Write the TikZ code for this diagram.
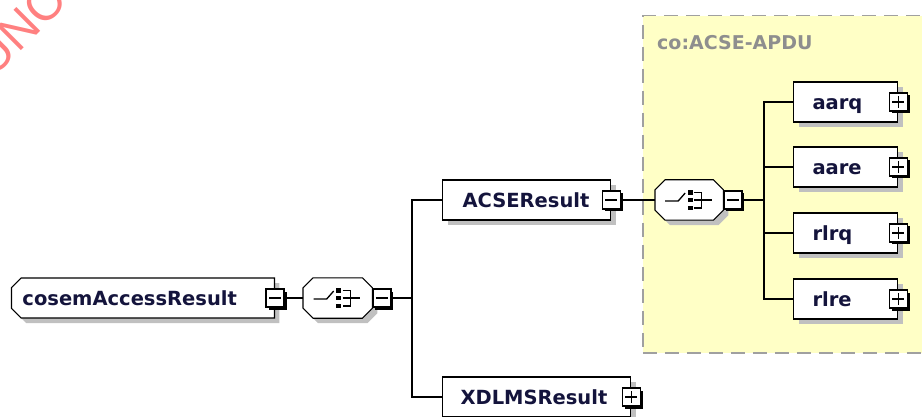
\documentclass[tikz,border=0pt]{standalone}
\usepackage{fontspec}
\setmainfont{DejaVu Sans}
\newfontfamily\stampfont{Liberation Sans}
\usetikzlibrary{shapes.misc,shadows}

\definecolor{elemtext}{HTML}{14143C}
\definecolor{shadowgray}{HTML}{C0C0C0}
\definecolor{groupfill}{HTML}{FFFFC6}
\definecolor{groupline}{HTML}{A0A0A0}
\definecolor{grouptext}{HTML}{8E8E8E}
\definecolor{stampred}{HTML}{FF8080}

% Achteck einer Sequenz: #1 Knoten, #2/#3 Versatz, #4 Optionen
\newcommand{\seqoctagon}[4]{%
  \path[#4] ([shift={(10pt+#2,#3)}]#1.north west) -- ([shift={(-10pt+#2,#3)}]#1.north east)
    -- ([shift={(#2,-10pt+#3)}]#1.north east) -- ([shift={(#2,10pt+#3)}]#1.south east)
    -- ([shift={(-10pt+#2,#3)}]#1.south east) -- ([shift={(10pt+#2,#3)}]#1.south west)
    -- ([shift={(#2,10pt+#3)}]#1.south west) -- ([shift={(#2,-10pt+#3)}]#1.north west) -- cycle;}

% Sequenz mit Schatten und Symbol (Schalter, drei Punkte, Klammer)
\newcommand{\seqdraw}[1]{%
  \seqoctagon{#1}{5pt}{-5pt}{fill=shadowgray}
  \seqoctagon{#1}{0pt}{0pt}{draw, fill=white, line width=1.1pt}
  \begin{scope}[shift={(#1.center)}, line width=1.3pt]
    \draw (-24pt,-1pt) -- (-11pt,-1pt) -- (-4pt,7pt);
    \fill (-1.5pt,5.3pt) rectangle (3.3pt,9.8pt);
    \fill (-1.5pt,-2.2pt) rectangle (3.3pt,2.3pt);
    \fill (-1.5pt,-10.3pt) rectangle (3.3pt,-5.8pt);
    \draw (5pt,7.5pt) -- (12.5pt,7.5pt) -- (12.5pt,-8pt) -- (5pt,-8pt);
    \draw (5pt,0pt) -- (22.5pt,0pt);
  \end{scope}}

\tikzset{
  elem/.style={draw, fill=white, line width=1.1pt, minimum height=40pt, inner ysep=0pt,
    font=\bfseries\fontsize{19.5pt}{22pt}\selectfont, text=elemtext, align=left,
    text height=14.5pt, text depth=0pt,
    drop shadow={shadow xshift=5pt, shadow yshift=-5pt, fill=shadowgray, opacity=1}},
  seqbox/.style={minimum width=69pt, minimum height=40pt, inner sep=0pt},
  minusbox/.style={draw, fill=white, line width=1.1pt, minimum size=18pt, inner sep=0pt,
    general shadow={fill=black, shadow xshift=2.5pt, shadow yshift=-2.5pt, opacity=1},
    path picture={\draw[line width=1.1pt] ([xshift=3pt]path picture bounding box.west)
      -- ([xshift=-3pt]path picture bounding box.east);}},
  plusbox/.style={minusbox,
    path picture={\draw[line width=1.1pt] ([xshift=3pt]path picture bounding box.west)
      -- ([xshift=-3pt]path picture bounding box.east)
      ([yshift=-3pt]path picture bounding box.north)
      -- ([yshift=3pt]path picture bounding box.south);}},
  group/.style={draw=groupline, fill=groupfill, line width=1.5pt,
    dash pattern=on 14pt off 8pt, inner sep=0pt},
  grouplabel/.style={font=\bfseries\fontsize{19pt}{22pt}\selectfont, text=grouptext, inner sep=0pt},
  wire/.style={line width=1.1pt}
}

\begin{document}
\begin{tikzpicture}[x=1pt, y=-1pt]
  \useasboundingbox (0,0) rectangle (922,417);

  % Gruppe co:ACSE-APDU
  \node[group, anchor=north west, minimum width=300pt, minimum height=337pt] (apdu) at (642,15) {};
  \node[grouplabel, anchor=west] (apduLabel) at (657,43) {co:ACSE-APDU};

  % Wurzelelement und erste Sequenz
  \node[elem, chamfered rectangle, chamfered rectangle xsep=6pt,
    chamfered rectangle corners={north west, south west},
    inner xsep=5pt, text width=241pt, minimum width=263pt, anchor=east] (cosem) at (275,298) {cosemAccessResult};
  \node[minusbox] (cosemM) at (cosem.east) {};
  \node[seqbox, anchor=west] (seqA) at (303,298) {};
  \seqdraw{seqA}
  \node[minusbox, anchor=west] (seqAM) at (seqA.east) {};
  \coordinate (forkA) at (412,298);

  % Kinder der ersten Sequenz
  \node[elem, inner xsep=20pt, text width=128pt, anchor=west] (acse) at (442,200) {ACSEResult};
  \node[minusbox] (acseM) at (acse.east) {};
  \node[elem, inner xsep=18pt, text width=152pt, anchor=west] (xdlms) at (442,397) {XDLMSResult};
  \node[plusbox] (xdlmsP) at (xdlms.east) {};

  % zweite Sequenz innerhalb der Gruppe
  \node[seqbox, minimum width=68pt, anchor=west] (seqB) at (655,200) {};
  \seqdraw{seqB}
  \node[minusbox, anchor=west] (seqBM) at (seqB.east) {};
  \coordinate (forkB) at (764,200);

  \node[elem, inner xsep=19pt, text width=66pt, anchor=west] (aarq) at (793,102) {aarq};
  \node[plusbox] (aarqP) at (aarq.east) {};
  \node[elem, inner xsep=19pt, text width=66pt, anchor=west] (aare) at (793,167) {aare};
  \node[plusbox] (aareP) at (aare.east) {};
  \node[elem, inner xsep=19pt, text width=66pt, anchor=west] (rlrq) at (793,233) {rlrq};
  \node[plusbox] (rlrqP) at (rlrq.east) {};
  \node[elem, inner xsep=19pt, text width=66pt, anchor=west] (rlre) at (793,299) {rlre};
  \node[plusbox] (rlreP) at (rlre.east) {};

  % Verbindungen
  \draw[wire] (cosemM.east) -- (seqA.west);
  \draw[wire] (seqAM.east) -- (forkA);
  \draw[wire] (acse.west) -| (forkA) |- (xdlms.west);
  \draw[wire] (acseM.east) -- (seqB.west);
  \draw[wire] (seqBM.east) -- (forkB);
  \draw[wire] (aarq.west) -| (forkB) |- (rlre.west);
  \draw[wire] (aare.west) -| (forkB);
  \draw[wire] (rlrq.west) -| (forkB);

  % Stempel oben links
  \node[text=stampred, rotate=45, inner sep=0pt,
    font=\stampfont\fontsize{49pt}{49pt}\selectfont] (stamp) at (19,29) {UNC};
\end{tikzpicture}
\end{document}
